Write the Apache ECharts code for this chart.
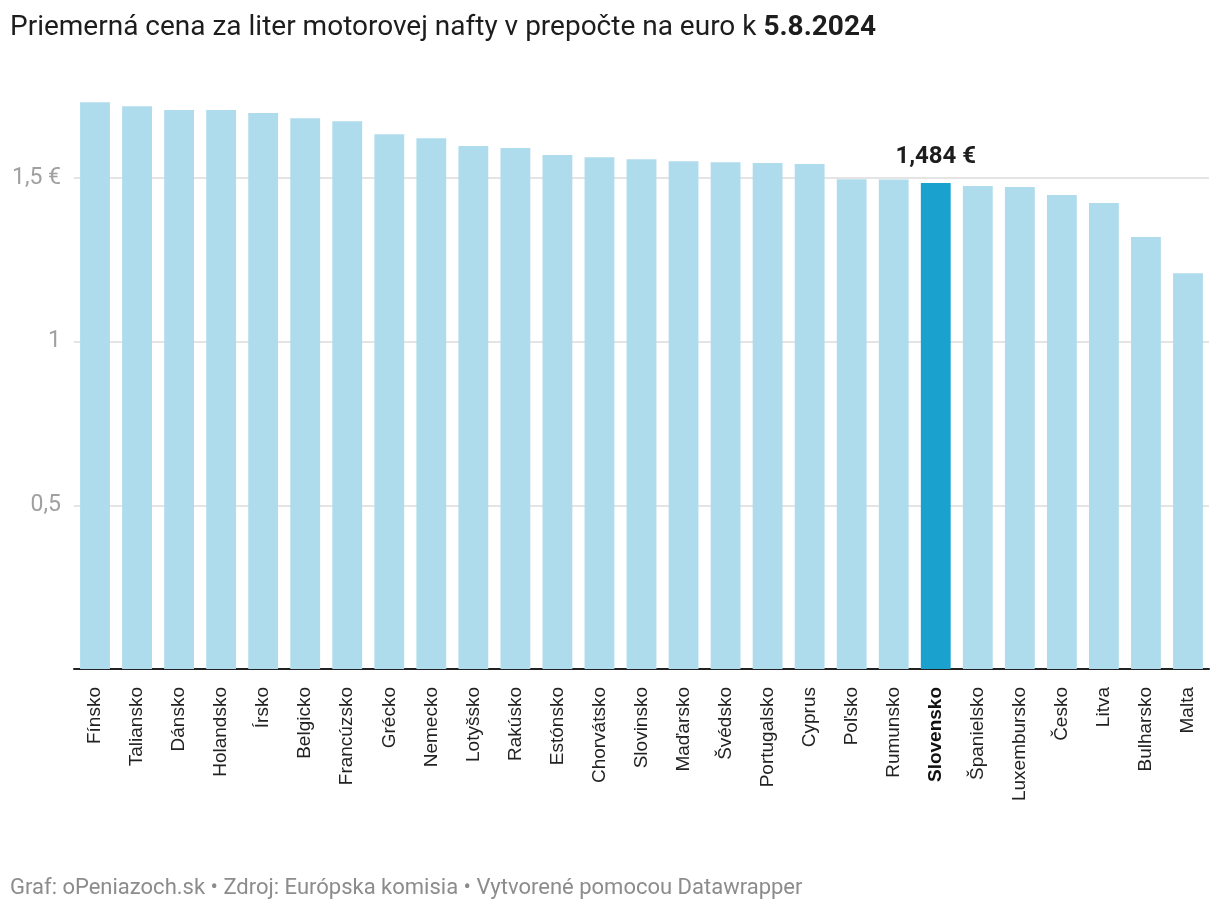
<!DOCTYPE html>
<html>
<head>
<meta charset="utf-8">
<script src="https://cdn.jsdelivr.net/npm/echarts@6/dist/echarts.min.js"></script>
<style>
html,body{margin:0;padding:0;background:#fff;}
#chart{width:1220px;height:912px;}
</style>
</head>
<body>
<div id="chart"></div>
<script>
const titleText = 'Priemerná cena za liter motorovej nafty v prepočte na euro k ';
const titleDate = '5.8.2024';
const footerText = 'Graf: oPeniazoch.sk • Zdroj: Európska komisia • Vytvorené pomocou Datawrapper';

const countries = ['Fínsko','Taliansko','Dánsko','Holandsko','Írsko','Belgicko','Francúzsko','Grécko','Nemecko','Lotyšsko','Rakúsko','Estónsko','Chorvátsko','Slovinsko','Maďarsko','Švédsko','Portugalsko','Cyprus','Poľsko','Rumunsko','Slovensko','Španielsko','Luxembursko','Česko','Litva','Bulharsko','Malta'];
const prices = [1.731,1.719,1.707,1.707,1.698,1.682,1.673,1.633,1.621,1.597,1.591,1.570,1.563,1.557,1.551,1.548,1.545,1.542,1.496,1.495,1.484,1.475,1.472,1.448,1.423,1.319,1.209];
const highlight = 'Slovensko';
const highlightLabel = '1,484 €';
const yTickLabels = {0.5:'0,5', 1:'1', 1.5:'1,5 €'};

const FONT = 'Roboto';
const LFONT = 'Liberation Sans';
const chart = echarts.init(document.getElementById('chart'), null, {renderer:'canvas'});

const data = prices.map((v,i)=>{
  const d = {value:v};
  if (countries[i] === highlight) {
    d.itemStyle = {color:'#1ba1cd'};
    d.label = {show:true, position:'top', distance:14, formatter: highlightLabel,
      fontFamily:FONT, fontSize:24, fontWeight:'bold', color:'#1d1d1d'};
  }
  return d;
});

chart.setOption({
  animation:false,
  textStyle:{fontFamily:FONT},
  title:[{
    text:'{n|'+titleText+'}{b|'+titleDate+'}',
    left:5, top:9,
    textStyle:{fontWeight:'normal', rich:{
      n:{fontFamily:FONT, fontSize:28, fontWeight:'normal', color:'#1d1d1d'},
      b:{fontFamily:FONT, fontSize:28, fontWeight:'bold', color:'#1d1d1d'}
    }}
  },{
    text:footerText,
    left:5, top:872,
    textStyle:{fontFamily:FONT, fontSize:22, fontWeight:'normal', color:'#8c8c8c'}
  }],
  grid:{left:74, right:11, top:96, bottom:243, containLabel:false},
  xAxis:{
    type:'category',
    data:countries,
    axisTick:{show:false},
    axisLine:{show:true, lineStyle:{color:'#222', width:2}},
    axisLabel:{
      interval:0, rotate:90, margin:18,
      fontFamily:LFONT, fontSize:19, color:'#222',
      formatter:(v)=> v===highlight ? '{b|'+v+'}' : v,
      rich:{b:{fontFamily:LFONT, fontSize:19, fontWeight:'bold', color:'#111'}}
    },
    splitLine:{show:false}
  },
  yAxis:{
    type:'value',
    min:0, max:1.75, interval:0.5,
    axisLine:{show:false},
    axisTick:{show:false},
    axisLabel:{
      margin:13, fontFamily:FONT, fontSize:23, color:'#a0a0a0',
      showMaxLabel:false,
      formatter:(v)=> yTickLabels[v] || ''
    },
    splitLine:{show:true, showMinLine:false, showMaxLine:false, lineStyle:{color:'#e4e4e4', width:2}}
  },
  series:[{
    type:'bar',
    data:data,
    barCategoryGap:'29%',
    itemStyle:{color:'#afdcec'},
    label:{show:false}
  }]
});
</script>
</body>
</html>
